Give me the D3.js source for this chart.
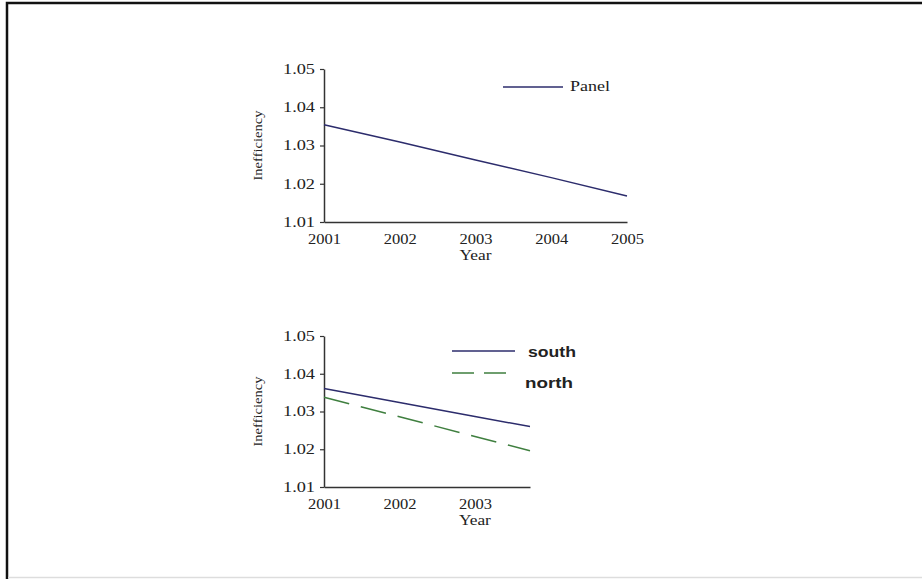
<!DOCTYPE html>
<html><head><meta charset="utf-8">
<script src="https://cdn.jsdelivr.net/npm/d3@7"></script>
<style>body{margin:0;background:#fff;}svg{display:block;}</style>
</head><body>
<svg id="c" width="922" height="579"></svg>
<script>
const yTicks = [1.01, 1.02, 1.03, 1.04, 1.05];
const topYears = [2001, 2002, 2003, 2004, 2005];
const panelValues = [1.0354, 1.0309, 1.0262, 1.0216, 1.0168];
const bottomYears = [2001, 2002, 2003, 2003.73];
const bottomTickYears = [2001, 2002, 2003];
const southValues = [1.0361, 1.0324, 1.0287, 1.0260];
const northValues = [1.0338, 1.0286, 1.0234, 1.0196];
const xLabel = "Year";
const yLabel = "Inefficiency";

const svg = d3.select("#c");
svg.append("rect").attr("x",0).attr("y",0).attr("width",922).attr("height",579).attr("fill","#fff");
// frame
svg.append("rect").attr("x",7).attr("y",3).attr("width",940).attr("height",600)
  .attr("fill","none").attr("stroke","#111").attr("stroke-width",2.5);
svg.append("line").attr("x1",8).attr("x2",922).attr("y1",577.5).attr("y2",577.5).attr("stroke","#ddd").attr("stroke-width",1.5);

const serif = "'Liberation Serif','Times New Roman',serif";
const navy = "#2c2c6c", green = "#3f7f3f", axisCol = "#333";

function panel(opts){
  const g = svg.append("g");
  const x = d3.scaleLinear().domain(opts.xDomain).range(opts.xRange);
  const y = d3.scaleLinear().domain([1.01,1.05]).range(opts.yRange);
  const ya = g.append("g").attr("transform",`translate(${opts.xRange[0]},0)`)
    .call(d3.axisLeft(y).tickValues(yTicks).tickFormat(d3.format(".2f")).tickSize(4).tickSizeOuter(0).tickPadding(5));
  ya.select(".domain").attr("stroke",axisCol).attr("stroke-width",1.5);
  ya.selectAll(".tick line").attr("stroke",axisCol).attr("stroke-width",1.2);
  ya.selectAll("text").attr("font-family",serif).attr("font-size",14).attr("fill","#222")
    .attr("textLength",32).attr("lengthAdjust","spacingAndGlyphs");
  const xa = g.append("g").attr("transform",`translate(0,${opts.yRange[0]})`)
    .call(d3.axisBottom(x).tickValues(opts.ticks).tickFormat(d3.format("d")).tickSize(0).tickSizeOuter(0).tickPadding(12));
  xa.select(".domain").attr("stroke",axisCol).attr("stroke-width",1.5);
  xa.selectAll("text").attr("font-family",serif).attr("font-size",14).attr("fill","#222")
    .attr("textLength",33).attr("lengthAdjust","spacingAndGlyphs");
  g.append("text").attr("x",x(2003)).attr("y",opts.yRange[0]+38)
    .attr("text-anchor","middle").attr("font-family",serif).attr("font-size",14).attr("fill","#222")
    .attr("textLength",32).attr("lengthAdjust","spacingAndGlyphs").text(xLabel);
  const yc = (opts.yRange[0]+opts.yRange[1])/2;
  g.append("text").attr("transform",`translate(${opts.xRange[0]-62},${yc}) rotate(-90)`)
    .attr("text-anchor","middle").attr("font-family",serif).attr("font-size",13).attr("fill","#222")
    .attr("textLength",70).attr("lengthAdjust","spacingAndGlyphs").text(yLabel);
  const line = d3.line().x(d=>x(d[0])).y(d=>y(d[1]));
  opts.series.forEach(s=>{
    g.append("path").datum(opts.years.map((yr,i)=>[yr,s.values[i]]))
      .attr("d",line).attr("fill","none").attr("stroke",s.color).attr("stroke-width",1.5)
      .attr("stroke-dasharray",s.dash||null);
  });
  return {x,y,g};
}

const p1 = panel({xDomain:[2001,2005], xRange:[324,627], yRange:[222,69], ticks:topYears, years:topYears,
  series:[{values:panelValues,color:navy}]});
p1.g.append("line").attr("x1",503).attr("x2",563).attr("y1",87).attr("y2",87).attr("stroke",navy).attr("stroke-width",1.5);
p1.g.append("text").attr("x",570).attr("y",91).attr("font-family",serif).attr("font-size",14).attr("fill","#222")
  .attr("textLength",40).attr("lengthAdjust","spacingAndGlyphs").text("Panel");

const p2 = panel({xDomain:[2001,2003.73], xRange:[324,530], yRange:[487,336], ticks:bottomTickYears, years:bottomYears,
  series:[{values:southValues,color:navy},{values:northValues,color:green,dash:"26,12"}]});
const sans = "'Liberation Sans',Arial,sans-serif";
p2.g.append("line").attr("x1",452).attr("x2",515).attr("y1",351).attr("y2",351).attr("stroke",navy).attr("stroke-width",1.5);
p2.g.append("text").attr("x",528).attr("y",357).attr("font-family",sans).attr("font-weight","bold").attr("font-size",15).attr("fill","#222")
  .attr("textLength",48).attr("lengthAdjust","spacingAndGlyphs").text("south");
p2.g.append("line").attr("x1",452).attr("x2",515).attr("y1",373).attr("y2",373).attr("stroke",green).attr("stroke-width",1.5).attr("stroke-dasharray","22,10");
p2.g.append("text").attr("x",525).attr("y",388).attr("font-family",sans).attr("font-weight","bold").attr("font-size",15).attr("fill","#222")
  .attr("textLength",48).attr("lengthAdjust","spacingAndGlyphs").text("north");
</script>
</body></html>
